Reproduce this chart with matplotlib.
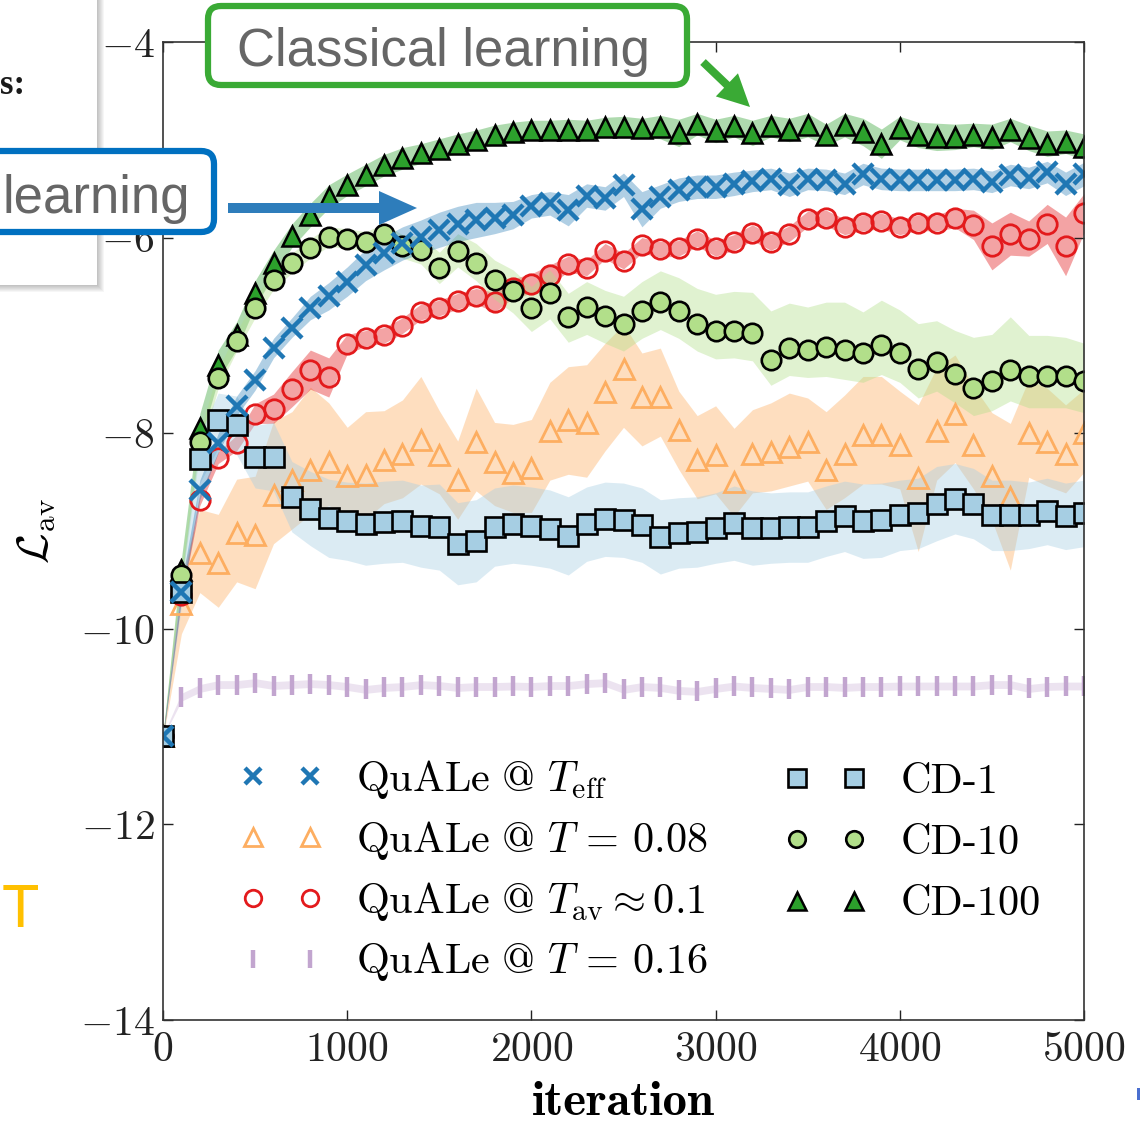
import numpy as np
import matplotlib
matplotlib.use("Agg")
import matplotlib.pyplot as plt
from matplotlib.patches import FancyBboxPatch, FancyArrow, Rectangle

# ---------------------------------------------------------------- data
iteration = list(range(0, 5001, 100))

quale_teff = [-11.10, -9.62, -8.58, -8.10, -7.72, -7.46, -7.13, -6.92, -6.72, -6.60,
              -6.45, -6.28, -6.16, -6.06, -5.99, -5.92, -5.86, -5.82, -5.80, -5.77,
              -5.68, -5.65, -5.72, -5.57, -5.60, -5.46, -5.71, -5.58, -5.51, -5.48,
              -5.48, -5.45, -5.42, -5.40, -5.46, -5.40, -5.41, -5.45, -5.35, -5.40,
              -5.41, -5.41, -5.41, -5.41, -5.40, -5.43, -5.36, -5.39, -5.33, -5.45,
              -5.35]
quale_teff_err = [0.02, 0.08, 0.10, 0.10, 0.10, 0.10, 0.10, 0.10, 0.12, 0.14,
                  0.15, 0.16, 0.17, 0.17, 0.17, 0.18, 0.18, 0.18, 0.16, 0.14,
                  0.12, 0.12, 0.16, 0.12, 0.12, 0.12, 0.18, 0.12, 0.12, 0.12,
                  0.12, 0.12, 0.11, 0.11, 0.12, 0.11, 0.11, 0.11, 0.11, 0.11,
                  0.11, 0.11, 0.11, 0.11, 0.11, 0.11, 0.11, 0.11, 0.11, 0.12,
                  0.12]

quale_t008 = [-11.10, -9.75, -9.23, -9.33, -9.02, -9.04, -8.63, -8.48, -8.38, -8.29,
              -8.44, -8.43, -8.27, -8.21, -8.07, -8.22, -8.48, -8.09, -8.29, -8.41,
              -8.36, -7.98, -7.87, -7.90, -7.58, -7.34, -7.63, -7.63, -7.97, -8.27,
              -8.22, -8.50, -8.21, -8.19, -8.14, -8.09, -8.38, -8.21, -8.02, -8.02,
              -8.12, -8.46, -7.98, -7.80, -8.12, -8.44, -8.65, -8.00, -8.09, -8.21,
              -8.00]
quale_t008_hi = [0.02, 0.30, 0.45, 0.50, 0.55, 0.60, 0.75, 0.70, 0.85, 0.60,
                 0.50, 0.65, 0.50, 0.55, 0.65, 0.45, 0.40, 0.55, 0.40, 0.50,
                 0.50, 0.50, 0.55, 0.60, 0.50, 0.45, 0.45, 0.50, 0.40, 0.45,
                 0.50, 0.55, 0.45, 0.50, 0.55, 0.45, 0.60, 0.60, 0.60, 0.60,
                 0.55, 0.75, 0.65, 0.60, 0.60, 0.65, 0.75, 0.55, 0.55, 0.50,
                 0.45]
quale_t008_lo = [0.02, 0.30, 0.40, 0.45, 0.50, 0.55, 0.50, 0.50, 0.45, 0.45,
                 0.40, 0.45, 0.45, 0.45, 0.45, 0.40, 0.40, 0.50, 0.45, 0.40,
                 0.45, 0.50, 0.55, 0.55, 0.60, 0.60, 0.50, 0.40, 0.40, 0.40,
                 0.40, 0.35, 0.40, 0.40, 0.40, 0.40, 0.40, 0.45, 0.50, 0.50,
                 0.45, 0.75, 0.50, 0.50, 0.45, 0.45, 0.75, 0.45, 0.45, 0.40,
                 0.40]

quale_tav = [-11.10, -9.65, -8.68, -8.25, -8.10, -7.80, -7.75, -7.55, -7.35, -7.43,
             -7.09, -7.03, -7.00, -6.90, -6.76, -6.72, -6.65, -6.60, -6.66, -6.52,
             -6.47, -6.38, -6.27, -6.31, -6.14, -6.24, -6.08, -6.12, -6.11, -6.01,
             -6.11, -6.05, -5.95, -6.05, -5.96, -5.81, -5.80, -5.89, -5.85, -5.83,
             -5.89, -5.85, -5.85, -5.80, -5.87, -6.09, -5.96, -6.01, -5.86, -6.09,
             -5.75]
quale_tav_err = [0.02, 0.05, 0.06, 0.06, 0.08, 0.10, 0.15, 0.18, 0.20, 0.20,
                 0.10, 0.08, 0.08, 0.08, 0.08, 0.08, 0.08, 0.08, 0.10, 0.10,
                 0.10, 0.10, 0.08, 0.08, 0.08, 0.08, 0.08, 0.08, 0.08, 0.08,
                 0.08, 0.08, 0.08, 0.08, 0.08, 0.08, 0.08, 0.08, 0.08, 0.08,
                 0.08, 0.08, 0.08, 0.10, 0.15, 0.24, 0.22, 0.18, 0.20, 0.30,
                 0.20]

quale_t016 = [-11.10, -10.70, -10.61, -10.57, -10.57, -10.55, -10.58, -10.57, -10.56, -10.57,
              -10.59, -10.62, -10.60, -10.59, -10.57, -10.58, -10.60, -10.59, -10.59, -10.585,
              -10.59, -10.58, -10.58, -10.56, -10.55, -10.62, -10.59, -10.60, -10.63, -10.64,
              -10.61, -10.585, -10.60, -10.61, -10.62, -10.59, -10.59, -10.60, -10.59, -10.59,
              -10.585, -10.585, -10.585, -10.585, -10.585, -10.57, -10.57, -10.61, -10.59, -10.585,
              -10.585]
quale_t016_err = [0.01] + [0.04] * 50

cd1 = [-11.10, -9.62, -8.26, -7.87, -7.92, -8.24, -8.24, -8.65, -8.77, -8.87,
       -8.90, -8.93, -8.91, -8.90, -8.95, -8.96, -9.13, -9.10, -8.96, -8.93,
       -8.95, -8.98, -9.05, -8.93, -8.88, -8.89, -8.94, -9.06, -9.02, -9.01,
       -8.97, -8.92, -8.97, -8.97, -8.96, -8.96, -8.90, -8.85, -8.90, -8.89,
       -8.84, -8.82, -8.72, -8.67, -8.72, -8.84, -8.84, -8.84, -8.80, -8.85,
       -8.82]
cd1_err = [0.02, 0.15, 0.25, 0.28, 0.30, 0.32, 0.35, 0.36, 0.38, 0.40,
           0.40, 0.42, 0.42, 0.42, 0.42, 0.44, 0.42, 0.42, 0.40, 0.40,
           0.40, 0.40, 0.40, 0.38, 0.38, 0.38, 0.38, 0.38, 0.36, 0.36,
           0.36, 0.38, 0.38, 0.36, 0.36, 0.36, 0.36, 0.36, 0.38, 0.38,
           0.36, 0.36, 0.38, 0.36, 0.36, 0.36, 0.36, 0.34, 0.34, 0.34,
           0.34]

cd10 = [-11.10, -9.45, -8.09, -7.44, -7.06, -6.72, -6.43, -6.26, -6.11, -5.99,
        -6.01, -6.04, -5.96, -6.09, -6.13, -6.31, -6.14, -6.26, -6.43, -6.55,
        -6.72, -6.57, -6.81, -6.71, -6.80, -6.88, -6.75, -6.66, -6.75, -6.88,
        -6.96, -6.95, -6.98, -7.25, -7.13, -7.15, -7.12, -7.15, -7.18, -7.10,
        -7.18, -7.34, -7.27, -7.39, -7.54, -7.47, -7.35, -7.42, -7.42, -7.42,
        -7.47]
cd10_hi = [0.02, 0.10, 0.10, 0.10, 0.10, 0.10, 0.10, 0.10, 0.10, 0.10,
           0.10, 0.10, 0.10, 0.12, 0.14, 0.16, 0.18, 0.20, 0.20, 0.22,
           0.22, 0.24, 0.24, 0.26, 0.26, 0.28, 0.30, 0.32, 0.34, 0.36,
           0.38, 0.40, 0.42, 0.50, 0.46, 0.44, 0.46, 0.49, 0.42, 0.46,
           0.44, 0.46, 0.42, 0.44, 0.52, 0.48, 0.54, 0.42, 0.42, 0.40,
           0.39]
cd10_lo = [0.02, 0.10, 0.10, 0.10, 0.10, 0.10, 0.10, 0.10, 0.10, 0.10,
           0.10, 0.10, 0.10, 0.12, 0.14, 0.16, 0.16, 0.18, 0.20, 0.22,
           0.24, 0.26, 0.26, 0.28, 0.28, 0.28, 0.28, 0.28, 0.28, 0.28,
           0.28, 0.28, 0.28, 0.26, 0.28, 0.28, 0.30, 0.30, 0.30, 0.30,
           0.30, 0.30, 0.30, 0.30, 0.28, 0.30, 0.32, 0.32, 0.32, 0.32,
           0.32]

cd100 = [-11.10, -9.40, -7.95, -7.30, -7.00, -6.57, -6.26, -5.98, -5.77, -5.58,
         -5.46, -5.36, -5.26, -5.19, -5.14, -5.09, -5.04, -5.00, -4.95, -4.92,
         -4.90, -4.90, -4.90, -4.90, -4.87, -4.87, -4.88, -4.87, -4.93, -4.84,
         -4.91, -4.86, -4.93, -4.86, -4.90, -4.85, -4.95, -4.85, -4.92, -5.04,
         -4.88, -4.95, -4.97, -4.97, -4.95, -4.97, -4.90, -4.98, -5.04, -5.02,
         -5.07]
cd100_err = [0.02, 0.12, 0.15, 0.15, 0.14, 0.13, 0.13, 0.12, 0.12, 0.12,
             0.11, 0.11, 0.11, 0.11, 0.10, 0.10, 0.10, 0.10, 0.10, 0.10,
             0.10, 0.10, 0.11, 0.10, 0.10, 0.11, 0.10, 0.12, 0.14, 0.11,
             0.12, 0.11, 0.13, 0.11, 0.12, 0.12, 0.11, 0.12, 0.14, 0.15,
             0.12, 0.13, 0.14, 0.13, 0.12, 0.13, 0.12, 0.13, 0.13, 0.12,
             0.13]

x_ticks = [0, 1000, 2000, 3000, 4000, 5000]
y_ticks = [-14, -12, -10, -8, -6, -4]

# ---------------------------------------------------------------- style
plt.rcParams.update({
    "font.family": "cmr10",
    "mathtext.fontset": "cm",
    "axes.formatter.use_mathtext": True,
})

W, H = 1140, 1124
fig = plt.figure(figsize=(W / 100, H / 100), dpi=100)
ax = fig.add_axes([163 / W, 1 - 1020 / H, (1084 - 163) / W, (1020 - 42) / H])

x = np.asarray(iteration)


def series(mean, lo, hi, color, alpha, label, **marker):
    m = np.asarray(mean)
    ax.fill_between(x, m - np.asarray(lo), m + np.asarray(hi),
                    color=color, alpha=alpha, lw=0)
    (h,) = ax.plot(x, m, ls="none", label=label, **marker)
    return h


c_teff, c_t08, c_tav, c_t16 = "#1f77b4", "#fdae61", "#e31a1c", "#c2a5cf"
c_cd1, c_cd10, c_cd100 = "#a6cee3", "#b2df8a", "#2ca02c"

h_t08 = series(quale_t008, quale_t008_lo, quale_t008_hi, c_t08, 0.40,
               r"$\mathrm{QuALe\ @\ }T \,=\, 0.08$",
               marker="^", ms=15, mfc="none", mec=c_t08, mew=2.0)
h_tav = series(quale_tav, quale_tav_err, quale_tav_err, c_tav, 0.40,
               r"$\mathrm{QuALe\ @\ }T_{\rm av} \approx 0.1$",
               marker="o", ms=14, mfc="none", mec=c_tav, mew=2.0)
h_t16 = series(quale_t016, quale_t016_err, quale_t016_err, c_t16, 0.30,
               r"$\mathrm{QuALe\ @\ }T \,=\, 0.16$",
               marker="|", ms=15, mec=c_t16, mew=3.2)
h_cd100 = series(cd100, cd100_err, cd100_err, c_cd100, 0.38, "CD-100",
                 marker="^", ms=15, mfc=c_cd100, mec="k", mew=1.8)
h_cd10 = series(cd10, cd10_lo, cd10_hi, c_cd10, 0.40, "CD-10",
                marker="o", ms=14, mfc=c_cd10, mec="k", mew=1.9)
h_cd1 = series(cd1, cd1_err, cd1_err, c_cd1, 0.40, "CD-1",
               marker="s", ms=14.5, mfc=c_cd1, mec="k", mew=1.9)
h_teff = series(quale_teff, quale_teff_err, quale_teff_err, c_teff, 0.35,
                r"$\mathrm{QuALe\ @\ }T_{\rm eff}$",
                marker="x", ms=14, mec=c_teff, mew=3.2)

ax.set_xlim(0, 5000)
ax.set_ylim(-14, -4)
ax.set_xticks(x_ticks)
ax.set_yticks(y_ticks)
ax.tick_params(direction="in", top=True, right=True, length=7, width=1,
               labelsize=30, pad=6, colors="#222222")
ax.tick_params(axis="x", pad=8)
for s in ax.spines.values():
    s.set_linewidth(1.2)
    s.set_color("#333333")

ax.set_xlabel("iteration", family="cmb10", fontsize=35)
ax.xaxis.set_label_coords(0.5, -0.063)
ax.set_ylabel(r"$\mathcal{L}_{\rm av}$", fontsize=32)
ax.yaxis.set_label_coords(-0.115, 0.5)

leg_kw = dict(loc="upper left", bbox_transform=fig.transFigure, frameon=False,
              numpoints=2, fontsize=30.5, handlelength=1.95, handletextpad=0.8,
              borderpad=0, borderaxespad=0, markerscale=0.85)
leg1 = ax.legend(handles=[h_teff, h_t08, h_tav, h_t16],
                 bbox_to_anchor=(240 / W, 1 - 758 / H), labelspacing=0.42, **leg_kw)
ax.add_artist(leg1)
ax.legend(handles=[h_cd1, h_cd10, h_cd100],
          bbox_to_anchor=(784 / W, 1 - 763 / H), labelspacing=0.56, **leg_kw)

# ---------------------------------------------------------------- slide callouts
ov = fig.add_axes([0, 0, 1, 1], zorder=10)
ov.set_xlim(0, W)
ov.set_ylim(H, 0)
ov.axis("off")

# side panel with soft shadow
for k in range(1, 8):
    ov.add_patch(Rectangle((-20, -20), 117 + k, 305 + k, fc="k",
                           alpha=0.035, lw=0))
ov.add_patch(Rectangle((-20, -20), 117, 305, fc="white", lw=0))
ov.text(25, 94, "s:", family="Liberation Serif", weight="bold", fontsize=25,
        ha="right", va="baseline", color="#1a1a1a")

green = "#3aaa35"
ov.add_patch(FancyBboxPatch((208, 6), 479, 79,
                            boxstyle="round,pad=0,rounding_size=13",
                            fc="white", ec=green, lw=4.5))
ov.text(237, 66, "Classical learning", family="Liberation Sans", fontsize=38,
        color="#666666", ha="left", va="baseline")
ov.add_patch(FancyArrow(703, 62, 47, 45, width=8, head_width=32,
                        head_length=32, length_includes_head=True,
                        color=green, lw=0))

blue = "#0070c0"
ov.add_patch(FancyBboxPatch((-30, 151), 244, 81,
                            boxstyle="round,pad=0,rounding_size=13",
                            fc="white", ec=blue, lw=4.5))
ov.text(3, 213, "learning", family="Liberation Sans", fontsize=38,
        color="#666666", ha="left", va="baseline")
ov.add_patch(FancyArrow(228, 208, 189, 0, width=10, head_width=34,
                        head_length=38, length_includes_head=True,
                        color="#2e7dbb", lw=0))

ov.text(2, 927, "T", family="Liberation Sans", fontsize=44, color="#ffc000",
        ha="left", va="baseline")
ov.add_patch(Rectangle((1137, 1088), 4, 12, fc="#4a6fd0", lw=0))

fig.savefig("out.png", dpi=100)
